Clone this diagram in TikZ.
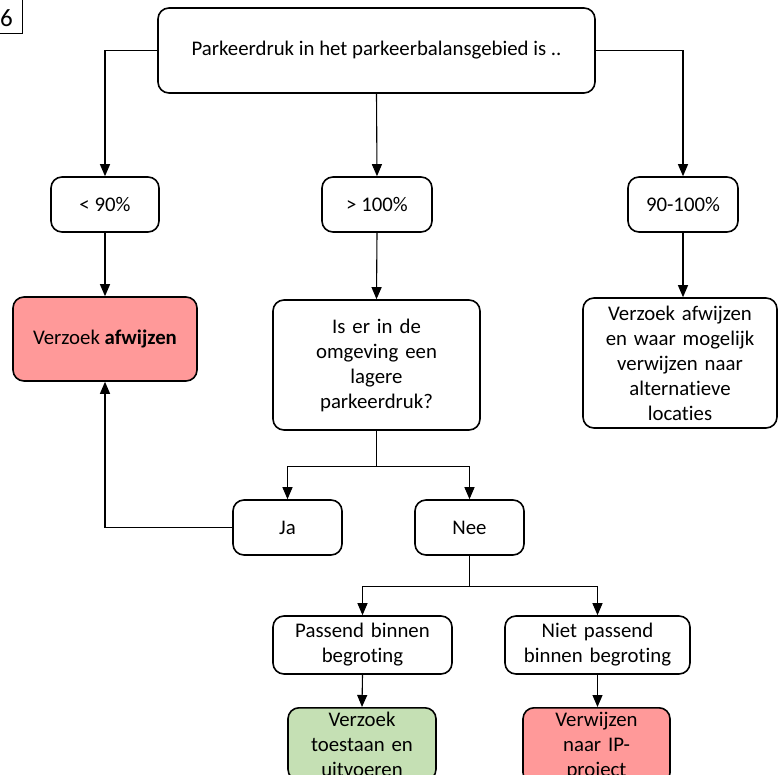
\documentclass[tikz,border=0pt]{standalone}
\usepackage{fontspec}
\setmainfont{Carlito}[Ligatures={NoCommon,NoRequired}]
\usetikzlibrary{arrows.meta}
\definecolor{afwrood}{RGB}{255,153,153}
\definecolor{okgroen}{RGB}{197,224,180}
\tikzset{
	blok/.style={draw, rounded corners=11pt, line width=1.6pt, align=center, inner sep=2pt, font=\fontsize{20.8}{25}\selectfont},
	pijl/.style={line width=1.1pt, -{Triangle[length=12pt,width=10pt]}},
	lijn/.style={line width=1.1pt}
}
\begin{document}
\begin{tikzpicture}[x=1pt,y=-1pt]
	\useasboundingbox (0,0) rectangle (780,775);
	\clip (0,0) rectangle (780,775);
	\fill[white] (0,0) rectangle (780,775);
	
	% nummer linksboven
	\draw[line width=0.8pt] (-40,-10) rectangle (22,33);
	\node[anchor=east, inner sep=0pt, font=\fontsize{25}{25}\selectfont] (nr) at (13,18) {6};
	
	\node[blok, minimum width=437, minimum height=85] (start) at (376.5,50.5) {Parkeerdruk in het parkeerbalansgebied is ..};
	
	\node[blok, minimum width=108, minimum height=55] (laag) at (105,204.5) {\textless{} 90\%};
	\node[blok, minimum width=110, minimum height=55] (hoog) at (377,204.5) {\textgreater{} 100\%};
	\node[blok, minimum width=110, minimum height=55] (mid) at (683,204.5) {90-100\%};
	
	\node[blok, fill=afwrood, minimum width=184, minimum height=84] (afw) at (105,339) {Verzoek \textbf{afwijzen}};
	\node[blok, text width=200, minimum width=207, minimum height=130] (vraag) at (376.5,365) {Is er in de\\ omgeving een\\ lagere\\ parkeerdruk?};
	\node[blok, text width=188, minimum width=194, minimum height=130] (alt) at (680,363) {Verzoek afwijzen\\ en waar mogelijk\\ verwijzen naar\\ alternatieve\\ locaties};
	
	\node[blok, minimum width=109, minimum height=55] (ja) at (287.5,527.5) {Ja};
	\node[blok, minimum width=109, minimum height=55] (nee) at (469.5,527.5) {Nee};
	
	\node[blok, text width=172, minimum width=179, minimum height=58] (pas) at (362.5,645) {Passend binnen\\ begroting};
	\node[blok, text width=178, minimum width=185, minimum height=58] (niet) at (597.5,645) {Niet passend\\ binnen begroting};
	
	\node[blok, fill=okgroen, text width=141, minimum width=148, anchor=north, inner xsep=1pt, inner ysep=4pt] (toe) at (362,707) {Verzoek\\ toestaan en\\ uitvoeren\\[4pt]};
	\node[blok, fill=afwrood, text width=140, minimum width=147, anchor=north, inner xsep=1pt, inner ysep=4pt] (ip) at (596.5,707) {Verwijzen\\ naar IP-\\ project\\[4pt]};
	
	% verbindingen
	\draw[pijl] (start.west) -| (laag.north);
	\draw[pijl] (start.south) -- (hoog.north);
	\draw[pijl] (start.east) -| (mid.north);
	\draw[pijl] (laag.south) -- (afw.north);
	\draw[pijl] (hoog.south) -- (vraag.north);
	\draw[pijl] (mid.south) -- (mid.south |- alt.north);
	
	\draw[lijn] (vraag.south) -- ++(0,36) coordinate (splitsa);
	\draw[pijl] (splitsa) -| (ja.north);
	\draw[pijl] (splitsa) -| (nee.north);
	\draw[pijl] (ja.west) -| (afw.south);
	
	\draw[lijn] (nee.south) -- ++(0,31) coordinate (splitsb);
	\draw[pijl] (splitsb) -| (pas.north);
	\draw[pijl] (splitsb) -| (niet.north);
	\draw[pijl] (pas.south) -- (toe.north);
	\draw[pijl] (niet.south) -- (niet.south |- ip.north);
\end{tikzpicture}
\end{document}
